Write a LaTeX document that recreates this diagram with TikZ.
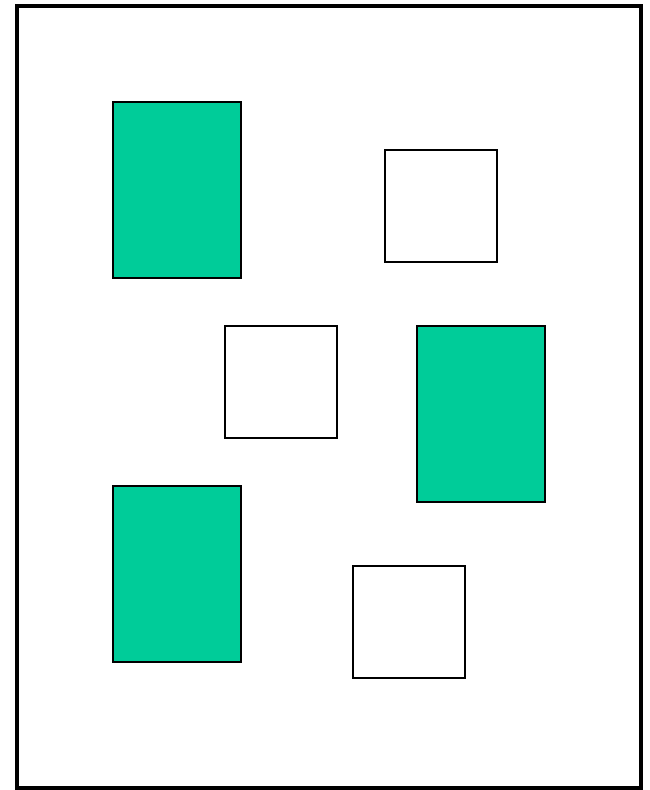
\documentclass[tikz,border=0pt]{standalone}
\definecolor{boxgreen}{HTML}{00CC99}
\tikzset{
  frame/.style={draw=black, line width=4pt, fill=white},
  greenbox/.style={draw=black, line width=1.6pt, fill=boxgreen, minimum width=128pt, minimum height=176pt, inner sep=0pt, outer sep=0pt},
  whitebox/.style={draw=black, line width=1.6pt, fill=white, minimum width=112pt, minimum height=112pt, inner sep=0pt, outer sep=0pt}
}
\begin{document}
\begin{tikzpicture}[x=1pt,y=-1pt]
\useasboundingbox (0,0) rectangle (650,790);
\fill[white] (0,0) rectangle (650,790);
\node[frame, minimum width=624pt, minimum height=782pt, inner sep=0pt] (frame) at (329,397) {};
\node[greenbox] (g1) at (177,190) {};
\node[greenbox] (g2) at (481,414) {};
\node[greenbox] (g3) at (177,574) {};
\node[whitebox] (w1) at (441,206) {};
\node[whitebox] (w2) at (281,382) {};
\node[whitebox] (w3) at (409,622) {};
\end{tikzpicture}
\end{document}
